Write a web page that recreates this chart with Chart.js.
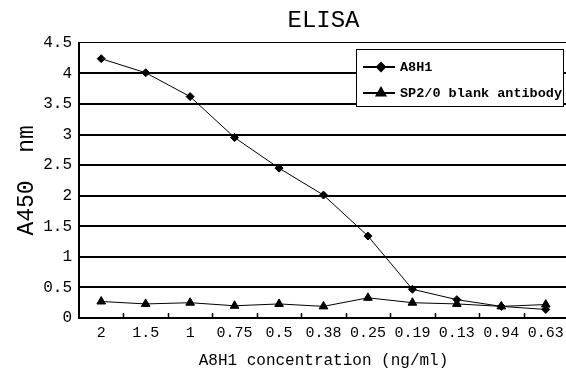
<!DOCTYPE html>
<html>
<head>
<meta charset="utf-8">
<script src="https://cdn.jsdelivr.net/npm/chart.js@4/dist/chart.umd.min.js"></script>
<style>
  html, body { margin: 0; padding: 0; background: #fff; overflow: hidden; }
</style>
</head>
<body>
<canvas id="elisaChart" width="574" height="376" style="width:574px;height:376px"></canvas>
<script>
// concentrations on the x axis (as printed)
const categories = ['2', '1.5', '1', '0.75', '0.5', '0.38', '0.25', '0.19', '0.13', '0.94', '0.63'];
const a8h1Values = [4.24, 4.01, 3.62, 2.95, 2.45, 2.01, 1.34, 0.47, 0.30, 0.19, 0.14];
const sp20Values = [0.27, 0.23, 0.25, 0.20, 0.23, 0.19, 0.33, 0.25, 0.23, 0.19, 0.22];
const yTickValues = [0, 0.5, 1, 1.5, 2, 2.5, 3, 3.5, 4, 4.5];

const FONT = "'Liberation Mono', 'DejaVu Sans Mono', monospace";

// small upward tick marks between categories + legend drawn inside the plot
const extrasPlugin = {
    id: 'extras',
    afterDraw(chart) {
        const ctx = chart.ctx;
        const x = chart.scales.x;
        const area = chart.chartArea;
        ctx.save();
        ctx.strokeStyle = '#000';
        ctx.lineWidth = 1.5;
        for (let i = 1; i < categories.length; i++) {
            const px = Math.round((x.getPixelForValue(i - 1) + x.getPixelForValue(i)) / 2) + 0.5;
            ctx.beginPath();
            ctx.moveTo(px, area.bottom);
            ctx.lineTo(px, area.bottom - 5);
            ctx.stroke();
        }

        // legend box
        const bx = 356.5, by = 49.5, bw = 207, bh = 57;
        ctx.fillStyle = '#fff';
        ctx.fillRect(bx, by, bw, bh);
        ctx.lineWidth = 1;
        ctx.strokeRect(bx, by, bw, bh);
        const rows = [67, 93];
        chart.data.datasets.forEach((ds, i) => {
            const y = rows[i];
            ctx.strokeStyle = '#000';
            ctx.lineWidth = 2;
            ctx.beginPath();
            ctx.moveTo(363, y);
            ctx.lineTo(395, y);
            ctx.stroke();
            ctx.fillStyle = '#000';
            Chart.helpers.drawPoint(ctx, {
                pointStyle: ds.pointStyle,
                radius: ds.pointRadius,
                rotation: 0,
                borderWidth: 1
            }, 381, y);
            ctx.fillStyle = '#000';
            ctx.font = 'bold 13.5px ' + FONT;
            ctx.textBaseline = 'middle';
            ctx.textAlign = 'left';
            ctx.fillText(ds.label, 400, y + 1);
        });
        ctx.restore();
    }
};

new Chart(document.getElementById('elisaChart'), {
    type: 'line',
    data: {
        labels: categories,
        datasets: [{
            label: 'A8H1',
            data: a8h1Values,
            borderColor: '#000',
            backgroundColor: '#000',
            borderWidth: 1,
            pointStyle: 'rectRot',
            pointRadius: 4,
            pointBorderWidth: 1,
            tension: 0
        }, {
            label: 'SP2/0 blank antibody',
            data: sp20Values,
            borderColor: '#000',
            backgroundColor: '#000',
            borderWidth: 1,
            pointStyle: 'triangle',
            pointRadius: 5,
            pointBorderWidth: 1,
            tension: 0
        }]
    },
    options: {
        responsive: false,
        animation: false,
        devicePixelRatio: 1,
        layout: { padding: 0 },
        plugins: {
            legend: { display: false },
            tooltip: { enabled: false },
            title: {
                display: true,
                fullSize: false,
                text: 'ELISA',
                color: '#000',
                font: { family: FONT, size: 24, weight: 'normal' },
                padding: { top: 6, bottom: 8 }
            }
        },
        scales: {
            x: {
                offset: true,
                grid: { display: true, drawOnChartArea: false, drawTicks: false },
                border: { display: true, color: '#000', width: 2 },
                ticks: {
                    color: '#000',
                    font: { family: FONT, size: 15 },
                    padding: 6,
                    maxRotation: 0,
                    autoSkip: false
                },
                title: {
                    display: true,
                    text: 'A8H1 concentration (ng/ml)',
                    color: '#000',
                    font: { family: FONT, size: 16 },
                    padding: { top: 0, bottom: 6 }
                },
                afterFit(scale) { scale.height = 58; }
            },
            y: {
                min: 0,
                max: 4.5,
                afterBuildTicks(scale) {
                    scale.ticks = yTickValues.map(v => ({ value: v }));
                },
                grid: {
                    color: '#000',
                    lineWidth: ctx => (ctx.tick && ctx.tick.value === 4.5 ? 1 : 2),
                    drawTicks: false
                },
                border: { display: true, color: '#000', width: 2 },
                ticks: {
                    color: '#000',
                    font: { family: FONT, size: 16 },
                    padding: 7,
                    callback: v => String(v)
                },
                title: {
                    display: true,
                    text: 'A450  nm',
                    color: '#000',
                    font: { family: FONT, size: 23 },
                    padding: { top: 13, bottom: 0 }
                },
                afterFit(scale) { scale.width = 79; }
            }
        }
    },
    plugins: [extrasPlugin]
});
</script>
</body>
</html>
